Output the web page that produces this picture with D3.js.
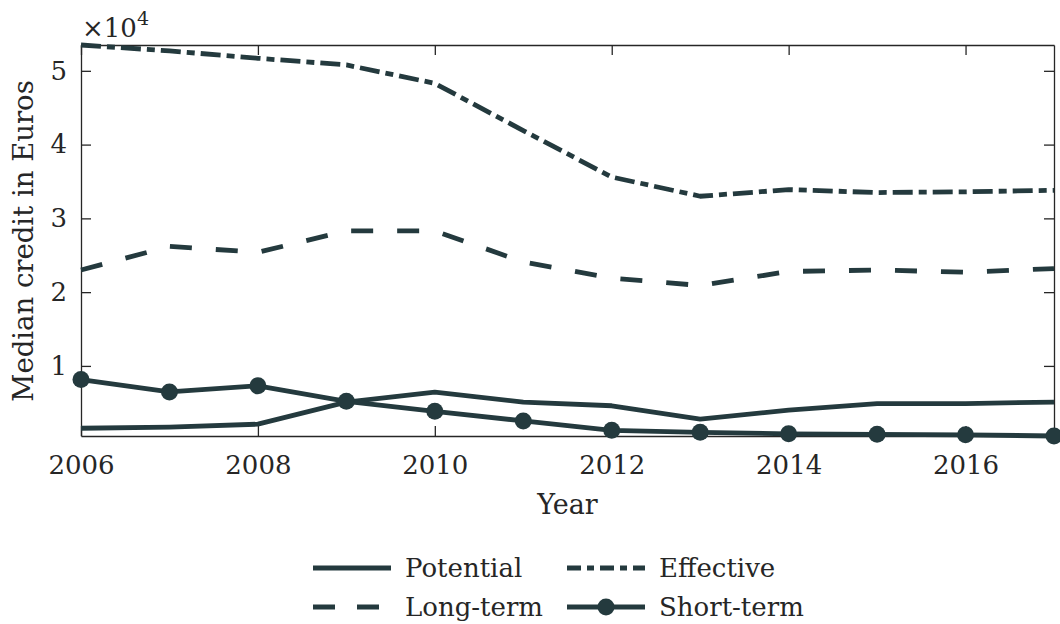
<!DOCTYPE html>
<html>
<head>
<meta charset="utf-8">
<script src="https://cdn.jsdelivr.net/npm/d3@7"></script>
<style>
  html, body { margin: 0; padding: 0; background: #fff; }
  svg { display: block; }
  text { font-family: "DejaVu Serif", serif; fill: #262626; }
</style>
</head>
<body>
<svg id="chart" width="1060" height="624"></svg>
<script>
const years = [2006, 2007, 2008, 2009, 2010, 2011, 2012, 2013, 2014, 2015, 2016, 2017];
const potential = [1550, 1700, 2100, 5100, 6450, 5100, 4600, 2800, 4000, 4900, 4900, 5100];
const effective = [53500, 52700, 51700, 50800, 48300, 41900, 35600, 33000, 33900, 33500, 33600, 33800];
const longTerm = [23000, 26200, 25400, 28300, 28300, 24100, 21900, 20900, 22800, 23000, 22700, 23200];
const shortTerm = [8150, 6470, 7300, 5200, 3850, 2540, 1270, 1000, 800, 730, 660, 500];
const xTicks = [2006, 2008, 2010, 2012, 2014, 2016];
const yTicks = [10000, 20000, 30000, 40000, 50000];
const seriesNames = ["Potential", "Effective", "Long-term", "Short-term"];

const color = "#243a3e";
const axisColor = "#262626";
const svg = d3.select("#chart");
const m = { left: 81, right: 1054, top: 45, bottom: 436 };

const x = d3.scaleLinear().domain([2006, 2017]).range([m.left, m.right]);
const y = d3.scaleLinear().domain([500, 53500]).range([m.bottom, m.top]);

// Axes
const gx = svg.append("g").attr("transform", `translate(0,${m.bottom})`)
  .call(d3.axisBottom(x).tickValues(xTicks).tickFormat(d3.format("d")).tickSizeInner(-10).tickSizeOuter(0).tickPadding(20));
const gxt = svg.append("g").attr("transform", `translate(0,${m.top})`)
  .call(d3.axisTop(x).tickValues(xTicks).tickFormat("").tickSizeInner(-10).tickSizeOuter(0));
const gy = svg.append("g").attr("transform", `translate(${m.left},0)`)
  .call(d3.axisLeft(y).tickValues(yTicks).tickFormat(d => d / 10000).tickSizeInner(-10).tickSizeOuter(0).tickPadding(14));
const gyr = svg.append("g").attr("transform", `translate(${m.right},0)`)
  .call(d3.axisRight(y).tickValues(yTicks).tickFormat("").tickSizeInner(-10).tickSizeOuter(0));

[gx, gxt, gy, gyr].forEach(g => {
  g.selectAll("path.domain").attr("stroke", axisColor).attr("stroke-width", 1.3);
  g.selectAll(".tick line").attr("stroke", axisColor).attr("stroke-width", 1.3);
  g.selectAll(".tick text").attr("font-size", 26).attr("font-family", "DejaVu Serif").attr("fill", axisColor);
});

// Lines
const line = d3.line().x((d, i) => x(years[i])).y(d => y(d));
const styles = [
  { data: potential, dash: null },
  { data: effective, dash: "20,6,8,6" },
  { data: longTerm, dash: "22,24" },
  { data: shortTerm, dash: null, marker: true }
];
styles.forEach(s => {
  svg.append("path").datum(s.data).attr("d", line)
    .attr("fill", "none").attr("stroke", color).attr("stroke-width", 4.8)
    .attr("stroke-linejoin", "round")
    .attr("stroke-dasharray", s.dash);
  if (s.marker) {
    svg.selectAll(null).data(s.data).enter().append("circle")
      .attr("cx", (d, i) => x(years[i])).attr("cy", d => y(d)).attr("r", 8.5)
      .attr("fill", color);
  }
});

// Labels
svg.append("text").attr("x", (m.left + m.right) / 2).attr("y", 514)
  .attr("text-anchor", "middle").attr("font-size", 27).text("Year");
svg.append("text").attr("transform", "translate(33,241) rotate(-90)")
  .attr("text-anchor", "middle").attr("font-size", 27.5).text("Median credit in Euros");
const exp = svg.append("text").attr("x", 82).attr("y", 37).attr("font-size", 26);
exp.append("tspan").text("×10");
exp.append("tspan").attr("dy", -12).attr("font-size", 19).text("4");

// Legend
const legend = [
  { name: seriesNames[0], lx: 313, ly: 568, dash: null },
  { name: seriesNames[1], lx: 567, ly: 568, dash: "14,6,7,6" },
  { name: seriesNames[2], lx: 313, ly: 607, dash: "22,22" },
  { name: seriesNames[3], lx: 567, ly: 607, dash: null, marker: true }
];
legend.forEach(l => {
  svg.append("line").attr("x1", l.lx).attr("x2", l.lx + 78).attr("y1", l.ly).attr("y2", l.ly)
    .attr("stroke", color).attr("stroke-width", 4.8).attr("stroke-dasharray", l.dash);
  if (l.marker) svg.append("circle").attr("cx", l.lx + 39).attr("cy", l.ly).attr("r", 8.5).attr("fill", color);
  svg.append("text").attr("x", l.lx + 92).attr("y", l.ly + 9).attr("font-size", 26).text(l.name);
});
</script>
</body>
</html>
